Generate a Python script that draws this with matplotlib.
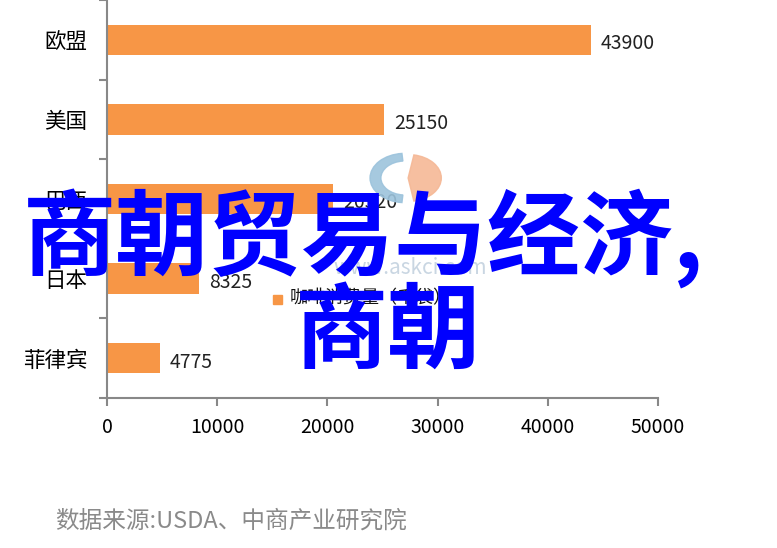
import numpy as np
import matplotlib.pyplot as plt
from matplotlib.patches import Wedge, Rectangle

plt.rcParams['font.family'] = ['Noto Sans CJK SC', 'DejaVu Sans']

countries = ["欧盟", "美国", "巴西", "日本", "菲律宾"]
consumption = [43900, 25150, 20520, 8325, 4775]
xticks = [0, 10000, 20000, 30000, 40000, 50000]
legend_label = "咖啡消费量（千袋）"
source = "数据来源:USDA、中商产业研究院"
overlay1 = "商朝贸易与经济,"
overlay2 = "商朝"

fig = plt.figure(figsize=(7.77, 5.48), dpi=100)
ax = fig.add_axes([107/777, 150/548, (658-107)/777, 398/548])

y = np.arange(len(countries))
ax.barh(y, consumption, height=0.38, color='#F79646', zorder=2)
for yi, v in zip(y, consumption):
    ax.text(v + 900, yi + 0.05, str(v), va='center', ha='left', fontsize=14, color='#222222')

ax.set_xlim(0, 50000)
ax.set_ylim(len(countries) - 0.5, -0.5)
ax.set_xticks(xticks)
ax.set_xticklabels([str(t) for t in xticks], fontsize=14)
ax.set_yticks(y)
ax.set_yticklabels(countries, fontsize=15.5)
ax.set_yticks(np.arange(-0.5, len(countries)), minor=True)
ax.tick_params(axis='y', which='major', length=0, pad=14)
ax.tick_params(axis='y', which='minor', length=6, color='#888888', width=1.5)
ax.tick_params(axis='x', length=6, color='#888888', width=1.5, pad=8)
for s in ['top', 'right']:
    ax.spines[s].set_visible(False)
for s in ['left', 'bottom']:
    ax.spines[s].set_color('#888888')
    ax.spines[s].set_linewidth(1.5)

# watermark logo
cx, cy, r = 405/777, 1 - 178/548, 0.045
fig.patches.append(Wedge((cx, cy), r, 95, 265, width=0.014, transform=fig.transFigure,
                         color='#9cc3dc', alpha=0.9, zorder=3))
fig.patches.append(Wedge((cx + 0.004, cy), r * 0.95, -80, 80, transform=fig.transFigure,
                         color='#f5b896', alpha=0.9, zorder=3))
fig.text(410/777, 1 - 268/548, "www.askci.com", ha='center', va='center', fontsize=15,
         color='#c9d6e2', zorder=3)

# legend
fig.patches.append(Rectangle((273/777, 1 - 304/548), 9/777, 9/548, transform=fig.transFigure,
                             color='#F79646', zorder=3))
fig.text(290/777, 1 - 298/548, legend_label, ha='left', va='center', fontsize=13,
         color='#111111', zorder=3)

# overlay title
fig.text(363/777, 1 - 239/548, overlay1, ha='center', va='center', fontsize=67,
         fontweight='bold', color='#0000FF', zorder=10)
fig.text(388/777, 1 - 333/548, overlay2, ha='center', va='center', fontsize=67,
         fontweight='bold', color='#0000FF', zorder=10)

fig.text(55/777, 1 - 521/548, source, ha='left', va='center', fontsize=17,
         color='#8a8a8a', fontweight='light')

fig.savefig("out.png", dpi=100)
